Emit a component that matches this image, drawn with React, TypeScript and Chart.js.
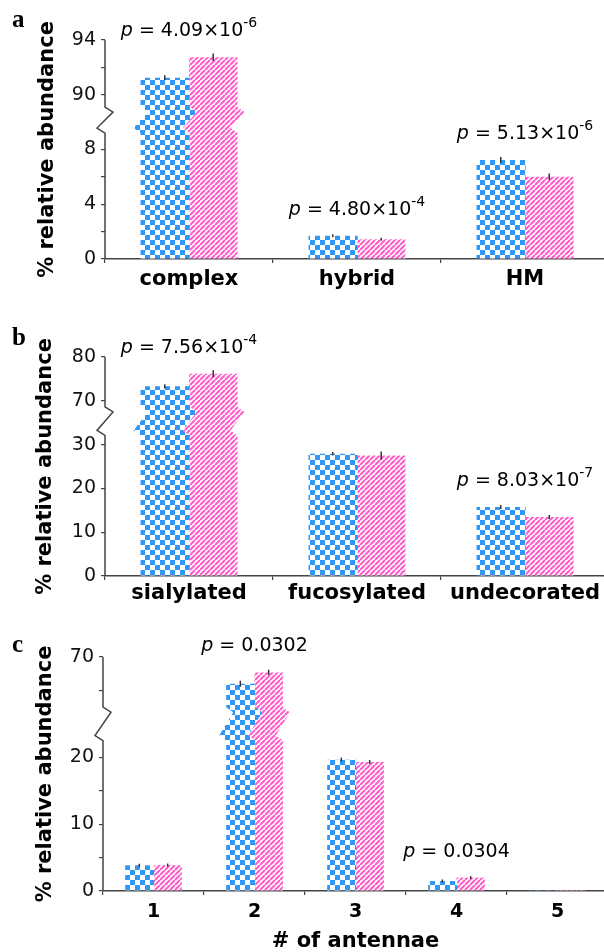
import React, { useEffect, useRef } from 'react';
import { Chart, registerables } from 'chart.js';

Chart.register(...registerables);

// ---------------- data ----------------
// panel a : glycan type
const typeCategories = ['complex', 'hybrid', 'HM'];
const typeControl = [91.25, 1.7, 7.23];
const typeCase = [92.74, 1.44, 6.01];
const typeControlErr = [0.18, 0.04, 0.22];
const typeCaseErr = [0.27, 0.04, 0.24];
const typeTicks = [0, 2, 4, 6, 8, 90, 92, 94];
const typeTickLabels = ['0', '', '4', '', '8', '90', '', '94'];
const typePIndex = [0, 1, 2];
const typePValue = ['4.09', '4.80', '5.13'];
const typePExp = ['-6', '-4', '-6'];

// panel b : decoration
const decoCategories = ['sialylated', 'fucosylated', 'undecorated'];
const decoControl = [73.3, 27.9, 15.75];
const decoCase = [76.2, 27.5, 13.45];
const decoControlErr = [0.5, 0.4, 0.45];
const decoCaseErr = [0.8, 0.95, 0.5];
const decoTicks = [0, 10, 20, 30, 70, 80];
const decoTickLabels = ['0', '10', '20', '30', '70', '80'];
const decoPIndex = [0, 2];
const decoPValue = ['7.56', '8.03'];
const decoPExp = ['-4', '-7'];

// panel c : number of antennae
const antCategories = ['1', '2', '3', '4', '5'];
const antControl = [3.85, 66.0, 19.65, 1.5, 0.05];
const antCase = [3.88, 67.7, 19.3, 2.0, 0.15];
const antControlErr = [0.05, 0.45, 0.3, 0.06, 0];
const antCaseErr = [0.05, 0.4, 0.3, 0.1, 0];
const antTicks = [0, 5, 10, 15, 20, 65, 70];
const antTickLabels = ['0', '', '10', '', '20', '', '70'];
const antPIndex = [1, 3];
const antPValue = ['0.0302', '0.0304'];
const antPExp = ['', ''];

// ---------------- layout ----------------
type PanelCfg = {
  letter: string; top: number; height: number; left: number; padRight: number;
  areaTop: number; areaBottom: number; shift: number; breakLow: number; breakHigh: number; max: number;
  catPct: number; labelSize: number; labelPad: number; yTitlePad: number; letterY: number; xTitle: string;
  categories: string[]; control: number[]; cas: number[]; controlErr: number[]; caseErr: number[];
  ticks: number[]; tickLabels: string[]; pIndex: number[]; pValue: string[]; pExp: string[];
};

const W = 612;
const AXIS = '#444';
const FONT = '"DejaVu Sans", sans-serif';
const BLUE = '#2f97f7';
const PINK = '#ff5cc8';

const PANELS: PanelCfg[] = [
  {
    letter: 'a', top: 0, height: 300, left: 105, padRight: 3, areaTop: 40, areaBottom: 259,
    shift: 78, breakLow: 9.2, breakHigh: 89.1, max: 94, catPct: 0.577, labelSize: 21, labelPad: 4.4,
    yTitlePad: 37, letterY: 27, xTitle: '',
    categories: typeCategories, control: typeControl, cas: typeCase, controlErr: typeControlErr, caseErr: typeCaseErr,
    ticks: typeTicks, tickLabels: typeTickLabels, pIndex: typePIndex, pValue: typePValue, pExp: typePExp,
  },
  {
    letter: 'b', top: 300, height: 320, left: 105, padRight: 3, areaTop: 57, areaBottom: 276,
    shift: 30, breakLow: 32.1, breakHigh: 68.6, max: 80, catPct: 0.577, labelSize: 21, labelPad: 1.2,
    yTitlePad: 35.5, letterY: 45, xTitle: '',
    categories: decoCategories, control: decoControl, cas: decoCase, controlErr: decoControlErr, caseErr: decoCaseErr,
    ticks: decoTicks, tickLabels: decoTickLabels, pIndex: decoPIndex, pValue: decoPValue, pExp: decoPExp,
  },
  {
    letter: 'c', top: 620, height: 332, left: 103, padRight: 4, areaTop: 37, areaBottom: 271,
    shift: 35, breakLow: 22.5, breakHigh: 62.5, max: 70, catPct: 0.561, labelSize: 19, labelPad: 5.3,
    yTitlePad: 35.5, letterY: 32, xTitle: '# of antennae',
    categories: antCategories, control: antControl, cas: antCase, controlErr: antControlErr, caseErr: antCaseErr,
    ticks: antTicks, tickLabels: antTickLabels, pIndex: antPIndex, pValue: antPValue, pExp: antPExp,
  },
];

function makeChecker(ctx: CanvasRenderingContext2D): CanvasPattern {
  const c = document.createElement('canvas');
  c.width = 10; c.height = 10;
  const g = c.getContext('2d')!;
  g.fillStyle = '#fff'; g.fillRect(0, 0, 10, 10);
  g.fillStyle = BLUE; g.fillRect(0, 0, 5, 5); g.fillRect(5, 5, 5, 5);
  return ctx.createPattern(c, 'repeat')!;
}

function makeHatch(ctx: CanvasRenderingContext2D): CanvasPattern {
  const s = 5;
  const c = document.createElement('canvas');
  c.width = s; c.height = s;
  const g = c.getContext('2d')!;
  g.fillStyle = '#fff'; g.fillRect(0, 0, s, s);
  g.strokeStyle = PINK; g.lineWidth = 2.1;
  g.beginPath();
  for (const o of [-s, 0, s]) { g.moveTo(o, s); g.lineTo(o + s, 0); }
  g.stroke();
  return ctx.createPattern(c, 'repeat')!;
}

function drawP(ctx: CanvasRenderingContext2D, cx: number, baseline: number, mant: string, exp: string) {
  const parts: { t: string; f: string; dy: number }[] = [
    { t: 'p', f: `italic 19px ${FONT}`, dy: 0 },
    { t: ` = ${mant}${exp ? '×10' : ''}`, f: `19px ${FONT}`, dy: 0 },
  ];
  if (exp) parts.push({ t: exp, f: `14px ${FONT}`, dy: -9 });
  let total = 0;
  const widths = parts.map((p) => { ctx.font = p.f; const w = ctx.measureText(p.t).width; total += w; return w; });
  let x = cx - total / 2;
  ctx.fillStyle = '#000';
  ctx.textAlign = 'left';
  ctx.textBaseline = 'alphabetic';
  parts.forEach((p, i) => { ctx.font = p.f; ctx.fillText(p.t, x, baseline + p.dy); x += widths[i]; });
}

function Panel({ cfg }: { cfg: PanelCfg }) {
  const ref = useRef<HTMLCanvasElement>(null);
  useEffect(() => {
    const canvas = ref.current!;
    const c2d = canvas.getContext('2d')!;
    const T = (v: number) => (v <= cfg.breakLow ? v : v - cfg.shift);
    const checker = makeChecker(c2d);
    const hatch = makeHatch(c2d);

    const decor = {
      id: 'decor',
      beforeDatasetDraw(chart: any, args: any) {
        const ctx = chart.ctx as CanvasRenderingContext2D;
        const ys = chart.scales.y;
        const yBB = ys.getPixelForValue(cfg.breakLow);
        const yBT = ys.getPixelForValue(cfg.breakHigh - cfg.shift);
        const ds = chart.data.datasets[args.index];
        const A = 7;
        const extra = args.index === 0 ? 0.7 : 0;
        ctx.save();
        ctx.fillStyle = ds.backgroundColor;
        for (const el of args.meta.data) {
          const p = el.getProps(['x', 'y', 'base', 'width'], true);
          const l = p.x - p.width / 2;
          const r = p.x + p.width / 2 + extra;
          const broken = p.y < yBT;
          ctx.beginPath();
          ctx.moveTo(l, p.base);
          if (broken) {
            ctx.lineTo(l, yBB); ctx.lineTo(l - A, yBB - 5); ctx.lineTo(l + A, yBT + 5); ctx.lineTo(l, yBT);
          }
          ctx.lineTo(l, p.y); ctx.lineTo(r, p.y);
          if (broken) {
            ctx.lineTo(r, yBT); ctx.lineTo(r + A, yBT + 5); ctx.lineTo(r - A, yBB - 5); ctx.lineTo(r, yBB);
          }
          ctx.lineTo(r, p.base);
          ctx.closePath();
          ctx.fill();
        }
        ctx.restore();
        return false;
      },
      afterDatasetsDraw(chart: any) {
        const ctx = chart.ctx as CanvasRenderingContext2D;
        const ys = chart.scales.y;
        const xs = chart.scales.x;
        ctx.save();
        // error bars
        ctx.strokeStyle = '#333';
        ctx.lineWidth = 1.5;
        const sets: [number[], number[]][] = [[cfg.control, cfg.controlErr], [cfg.cas, cfg.caseErr]];
        sets.forEach(([vals, errs], di) => {
          const meta = chart.getDatasetMeta(di);
          vals.forEach((v, j) => {
            const e = errs[j];
            if (!e) return;
            const x = meta.data[j].x;
            const yc = ys.getPixelForValue(T(v));
            let y1 = ys.getPixelForValue(T(v + e));
            let y2 = ys.getPixelForValue(T(v - e));
            y1 = Math.min(y1, yc - 1.5); y2 = Math.max(y2, yc + 1.5);
            ctx.beginPath(); ctx.moveTo(x, y1); ctx.lineTo(x, y2); ctx.stroke();
          });
        });
        // broken y axis line
        const L = chart.chartArea.left;
        const yBB = ys.getPixelForValue(cfg.breakLow);
        const yBT = ys.getPixelForValue(cfg.breakHigh - cfg.shift);
        ctx.strokeStyle = AXIS;
        ctx.lineWidth = 1.5;
        ctx.beginPath();
        ctx.moveTo(L, ys.getPixelForValue(0));
        ctx.lineTo(L, yBB);
        ctx.lineTo(L - 8, yBB - 5);
        ctx.lineTo(L + 8, yBT + 5);
        ctx.lineTo(L, yBT);
        ctx.lineTo(L, ys.getPixelForValue(T(cfg.max)));
        ctx.stroke();
        // p-value annotations
        cfg.pIndex.forEach((idx, k) => {
          const top = Math.min(chart.getDatasetMeta(0).data[idx].y, chart.getDatasetMeta(1).data[idx].y);
          drawP(ctx, xs.getPixelForValue(idx), top - 21, cfg.pValue[k], cfg.pExp[k]);
        });
        ctx.restore();
      },
      afterDraw(chart: any) {
        const ctx = chart.ctx as CanvasRenderingContext2D;
        ctx.save();
        ctx.fillStyle = '#000';
        ctx.font = 'bold 25px "Liberation Serif", serif';
        ctx.textAlign = 'left';
        ctx.textBaseline = 'alphabetic';
        ctx.fillText(cfg.letter, 12, cfg.letterY);
        ctx.restore();
      },
    };

    const chart = new Chart(canvas, {
      type: 'bar',
      data: {
        labels: cfg.categories,
        datasets: [
          { data: cfg.control.map(T), backgroundColor: checker as any, categoryPercentage: cfg.catPct, barPercentage: 1 },
          { data: cfg.cas.map(T), backgroundColor: hatch as any, categoryPercentage: cfg.catPct, barPercentage: 1 },
        ],
      },
      options: {
        animation: false,
        responsive: false,
        devicePixelRatio: 1,
        layout: { padding: { top: cfg.areaTop, right: cfg.padRight, left: 0, bottom: 0 } },
        plugins: { legend: { display: false }, tooltip: { enabled: false } },
        scales: {
          x: {
            z: 1,
            offset: true,
            grid: { display: true, offset: true, drawOnChartArea: false, drawTicks: true, tickLength: 4, color: AXIS, lineWidth: 1.2 },
            border: { display: true, color: AXIS, width: 1.5 },
            ticks: {
              color: '#000', padding: cfg.labelPad, maxRotation: 0, minRotation: 0, autoSkip: false,
              font: { family: FONT, weight: 'bold', size: cfg.labelSize, lineHeight: 1.2 },
            },
            title: {
              display: !!cfg.xTitle, text: cfg.xTitle, color: '#000',
              font: { family: FONT, weight: 'bold', size: 21, lineHeight: 1 },
              padding: { top: 0, bottom: 0 },
            },
            afterFit: (s: any) => { s.height = cfg.height - cfg.areaBottom; },
          },
          y: {
            min: 0,
            max: T(cfg.max),
            afterBuildTicks: (s: any) => { s.ticks = cfg.ticks.map((v) => ({ value: T(v) })); },
            ticks: {
              autoSkip: false, color: '#111', padding: 5,
              font: { family: FONT, size: 19 },
              callback: (_v: any, i: number) => cfg.tickLabels[i],
            },
            grid: { drawOnChartArea: false, drawTicks: true, tickLength: 4, color: AXIS, lineWidth: 1.2 },
            border: { display: false },
            title: {
              display: true, text: '% relative abundance', color: '#000',
              font: { family: FONT, weight: 'bold', size: 21, lineHeight: 1 },
              padding: { top: cfg.yTitlePad, bottom: 0 },
            },
            afterFit: (s: any) => { s.width = cfg.left; },
          },
        },
      } as any,
      plugins: [decor as any],
    });
    return () => chart.destroy();
  }, [cfg]);
  return (
    <canvas
      ref={ref}
      width={W}
      height={cfg.height}
      style={{ position: 'absolute', left: 0, top: cfg.top, width: W, height: cfg.height }}
    />
  );
}

export default function App() {
  return (
    <div style={{ position: 'absolute', left: 0, top: 0, width: 604, height: 952, overflow: 'hidden', background: '#fff' }}>
      {PANELS.map((p) => <Panel key={p.letter} cfg={p} />)}
    </div>
  );
}
